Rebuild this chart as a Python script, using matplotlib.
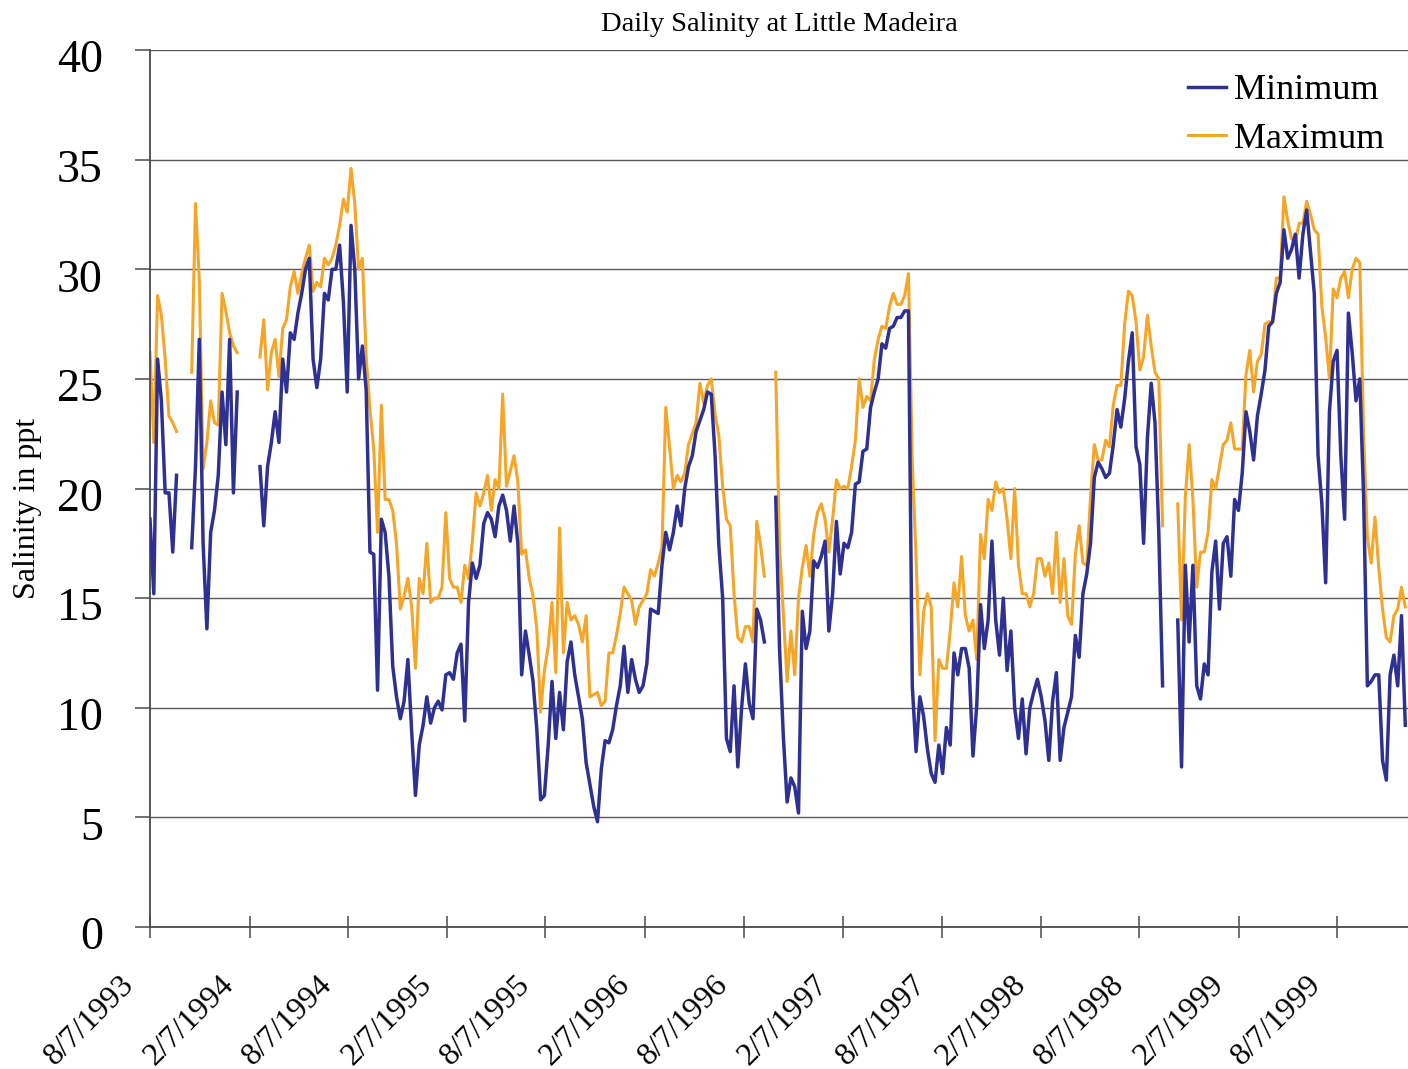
import matplotlib
matplotlib.use("Agg")
import matplotlib.pyplot as plt
from matplotlib.transforms import ScaledTranslation
import numpy as np
import pandas as pd

nan = np.nan

# weekly readings, first one on 8/7/1993
start_date = "1993-08-07"
end_date = "1999-12-16"

tick_labels = ["8/7/1993", "2/7/1994", "8/7/1994", "2/7/1995", "8/7/1995",
               "2/7/1996", "8/7/1996", "2/7/1997", "8/7/1997", "2/7/1998",
               "8/7/1998", "2/7/1999", "8/7/1999"]

max_vals = [
    26.2, 22.1, 28.8, 27.9, 25.9, 23.3, 23.0, 22.6, nan, nan,
    nan, 25.3, 33.0, 29.5, 20.9, 22.1, 24.0, 23.0, 22.9, 28.9,
    28.1, 27.1, 26.5, 26.2, nan, nan, nan, nan, nan, 26.0,
    27.7, 24.5, 26.2, 26.8, 25.1, 27.3, 27.7, 29.2, 29.9, 28.9,
    29.8, 30.5, 31.1, 29.0, 29.4, 29.2, 30.5, 30.2, 30.5, 31.1,
    32.0, 33.2, 32.6, 34.6, 33.0, 30.0, 30.5, 26.0, 23.6, 21.8,
    18.0, 23.8, 19.5, 19.5, 19.0, 17.5, 14.5, 15.1, 15.9, 14.6,
    11.8, 15.9, 15.2, 17.5, 14.8, 15.0, 15.0, 15.5, 18.9, 15.9,
    15.5, 15.5, 14.8, 16.5, 15.9, 17.6, 19.8, 19.2, 19.8, 20.6,
    19.0, 20.4, 20.0, 24.3, 20.1, 20.8, 21.5, 20.3, 17.0, 17.2,
    15.9, 15.1, 13.6, 9.8, 11.7, 12.8, 14.8, 11.6, 18.2, 12.5,
    14.8, 14.0, 14.2, 13.8, 13.0, 14.2, 10.5, 10.6, 10.7, 10.1,
    10.3, 12.5, 12.5, 13.3, 14.3, 15.5, 15.2, 14.9, 13.8, 14.6,
    14.9, 15.2, 16.3, 16.0, 16.6, 17.3, 23.7, 21.9, 20.0, 20.6,
    20.3, 20.7, 22.0, 22.5, 23.0, 24.8, 23.9, 24.7, 25.0, 23.4,
    22.4, 20.1, 18.6, 18.3, 15.2, 13.2, 13.0, 13.7, 13.7, 13.0,
    18.5, 17.4, 16.0, nan, nan, 25.3, 17.3, 14.3, 11.2, 13.5,
    11.5, 15.0, 16.4, 17.4, 16.0, 17.9, 18.9, 19.3, 18.6, 17.1,
    18.6, 20.4, 20.0, 20.1, 20.0, 21.0, 22.2, 25.0, 23.7, 24.2,
    24.0, 25.9, 26.8, 27.4, 27.3, 28.3, 28.9, 28.4, 28.4, 28.8,
    29.8, 21.2, 16.9, 11.5, 14.4, 15.2, 14.6, 8.5, 12.2, 11.8,
    11.8, 13.5, 15.7, 14.6, 16.9, 14.2, 13.5, 14.0, 12.2, 17.9,
    16.8, 19.5, 19.0, 20.3, 19.8, 20.0, 18.6, 16.8, 20.0, 16.5,
    15.2, 15.2, 14.6, 15.2, 16.8, 16.8, 16.0, 16.6, 15.2, 18.0,
    14.8, 16.8, 14.2, 13.8, 17.0, 18.3, 16.6, 16.5, 19.6, 22.0,
    21.3, 21.3, 22.2, 21.9, 23.8, 24.7, 24.7, 27.5, 29.0, 28.8,
    27.6, 25.4, 26.0, 27.9, 26.5, 25.3, 25.0, 18.3, nan, nan,
    nan, 19.3, 14.0, 19.6, 22.0, 19.5, 15.5, 17.1, 17.1, 18.0,
    20.4, 20.0, 21.0, 22.0, 22.2, 23.0, 21.8, 21.8, 21.8, 25.2,
    26.3, 24.4, 25.8, 26.1, 27.5, 27.6, 27.6, 29.6, 29.6, 33.3,
    32.2, 31.4, 31.2, 32.1, 32.1, 33.1, 32.5, 31.8, 31.6, 28.3,
    26.9, 25.0, 29.1, 28.7, 29.6, 29.9, 28.7, 30.0, 30.5, 30.3,
    22.5, 17.8, 16.6, 18.7, 16.4, 14.5, 13.2, 13.0, 14.2, 14.5,
    15.5, 14.6,
]

min_vals = [
    18.6, 15.2, 25.9, 24.0, 19.8, 19.8, 17.1, 20.6, nan, nan,
    nan, 17.3, 21.0, 26.8, 17.5, 13.6, 18.0, 19.0, 20.6, 24.4,
    22.0, 26.8, 19.8, 24.4, nan, nan, nan, nan, nan, 21.0,
    18.3, 21.0, 22.1, 23.5, 22.1, 25.9, 24.4, 27.1, 26.8, 28.0,
    28.9, 30.0, 30.5, 25.9, 24.6, 25.9, 28.9, 28.6, 30.0, 30.0,
    31.1, 28.5, 24.4, 32.0, 30.0, 25.0, 26.5, 24.5, 17.1, 17.0,
    10.8, 18.6, 18.0, 16.0, 11.9, 10.5, 9.5, 10.3, 12.2, 8.9,
    6.0, 8.3, 9.2, 10.5, 9.3, 10.0, 10.3, 9.9, 11.5, 11.6,
    11.3, 12.5, 12.9, 9.4, 14.8, 16.6, 15.9, 16.5, 18.4, 18.9,
    18.6, 17.8, 19.2, 19.7, 19.0, 17.6, 19.2, 17.5, 11.5, 13.5,
    12.4, 11.2, 9.0, 5.8, 6.0, 8.3, 11.2, 8.6, 10.7, 9.0,
    12.1, 13.0, 11.5, 10.5, 9.5, 7.5, 6.5, 5.5, 4.8, 7.2,
    8.5, 8.4, 9.0, 10.1, 11.0, 12.8, 10.7, 12.2, 11.3, 10.7,
    11.0, 12.0, 14.5, 14.4, 14.3, 16.5, 18.0, 17.2, 18.0, 19.2,
    18.3, 20.0, 21.0, 21.5, 22.6, 23.1, 23.6, 24.4, 24.3, 21.5,
    17.4, 15.0, 8.6, 8.0, 11.0, 7.3, 10.0, 12.0, 10.2, 9.5,
    14.5, 14.0, 13.0, nan, nan, 19.6, 12.7, 8.7, 5.7, 6.8,
    6.4, 5.2, 14.4, 12.7, 13.5, 16.7, 16.4, 16.9, 17.6, 13.5,
    15.2, 18.5, 16.1, 17.5, 17.3, 18.0, 20.2, 20.3, 21.7, 21.8,
    23.7, 24.4, 25.0, 26.6, 26.4, 27.3, 27.4, 27.8, 27.8, 28.1,
    28.1, 11.0, 8.0, 10.5, 9.6, 8.1, 7.0, 6.6, 8.3, 7.0,
    9.1, 8.3, 12.5, 11.5, 12.7, 12.7, 11.8, 7.8, 10.1, 14.7,
    12.7, 14.0, 17.6, 14.0, 12.4, 15.0, 11.7, 13.5, 10.0, 8.6,
    10.4, 7.9, 10.0, 10.7, 11.3, 10.5, 9.4, 7.6, 10.3, 11.6,
    7.6, 9.1, 9.8, 10.5, 13.3, 12.3, 15.2, 16.1, 17.5, 20.5,
    21.2, 20.9, 20.5, 20.7, 22.0, 23.6, 22.8, 24.1, 25.8, 27.1,
    21.9, 21.1, 17.5, 22.3, 24.8, 23.0, 18.0, 11.0, nan, nan,
    nan, 14.0, 7.3, 16.5, 13.0, 16.5, 11.0, 10.4, 12.0, 11.5,
    16.2, 17.6, 14.5, 17.5, 17.8, 16.0, 19.5, 19.0, 20.7, 23.5,
    22.6, 21.3, 23.3, 24.3, 25.4, 27.4, 27.6, 28.9, 29.4, 31.8,
    30.5, 30.9, 31.6, 29.6, 31.6, 32.7, 30.8, 28.9, 21.5, 19.3,
    15.7, 23.5, 25.8, 26.3, 21.5, 18.6, 28.0, 26.2, 24.0, 25.0,
    19.7, 11.0, 11.2, 11.5, 11.5, 7.6, 6.7, 11.5, 12.4, 11.0,
    14.2, 9.2,
]

BLUE = "#2E3192"
ORANGE = "#F5A528"
GRID = "#5a5a5a"

plt.rcParams["font.family"] = ["Liberation Serif", "DejaVu Serif"]

dates = pd.date_range(start_date, periods=len(max_vals), freq="7D")
tick_dates = pd.to_datetime(tick_labels, format="%m/%d/%Y")

fig = plt.figure(figsize=(14.08, 10.69), dpi=100)
ax = fig.add_axes([150 / 1408, 142 / 1069, 1258 / 1408, 877 / 1069])

l_max, = ax.plot(dates, max_vals, color=ORANGE, lw=2.2, label="Maximum", zorder=2)
l_min, = ax.plot(dates, min_vals, color=BLUE, lw=2.5, label="Minimum", zorder=3)

ax.set_xlim(pd.Timestamp(start_date), pd.Timestamp(end_date))
ax.set_ylim(0, 40)
ax.set_yticks(range(0, 41, 5))
ax.yaxis.grid(True, color=GRID, lw=1.0)
ax.set_axisbelow(True)

for s in ["top", "right"]:
    ax.spines[s].set_visible(False)
for s in ["left", "bottom"]:
    ax.spines[s].set_color("#4a4a4a")
    ax.spines[s].set_linewidth(1.3)

ax.set_xticks(tick_dates)
ax.set_xticklabels(tick_labels, rotation=45, ha="right", va="top",
                   rotation_mode="anchor", fontsize=23)
ax.tick_params(axis="x", direction="inout", length=16, width=1.1,
               color="#4a4a4a", pad=23)
ax.tick_params(axis="y", direction="out", length=11, width=1.1,
               color="#4a4a4a", pad=23, labelsize=33)

xshift = ScaledTranslation(-30 / 100, 0, fig.dpi_scale_trans)
for lab in ax.get_xticklabels():
    lab.set_transform(lab.get_transform() + xshift)
yshift = ScaledTranslation(0, -6 / 100, fig.dpi_scale_trans)
for lab in ax.get_yticklabels():
    lab.set_transform(lab.get_transform() + yshift)

ax.set_title("Daily Salinity at Little Madeira", fontsize=20.5, pad=13.5)
fig.text(28 / 1408, 1 - 508 / 1069, "Salinity in ppt", rotation=90,
         ha="center", va="center", fontsize=23)

ax.legend(handles=[l_min, l_max], loc="upper right",
          bbox_to_anchor=(1384 / 1408, 1 - 74 / 1069),
          bbox_transform=fig.transFigure, frameon=False, fontsize=26,
          handlelength=1.05, handletextpad=0.22, labelspacing=0.42,
          borderpad=0, borderaxespad=0)

fig.savefig("out.png", dpi=100)
